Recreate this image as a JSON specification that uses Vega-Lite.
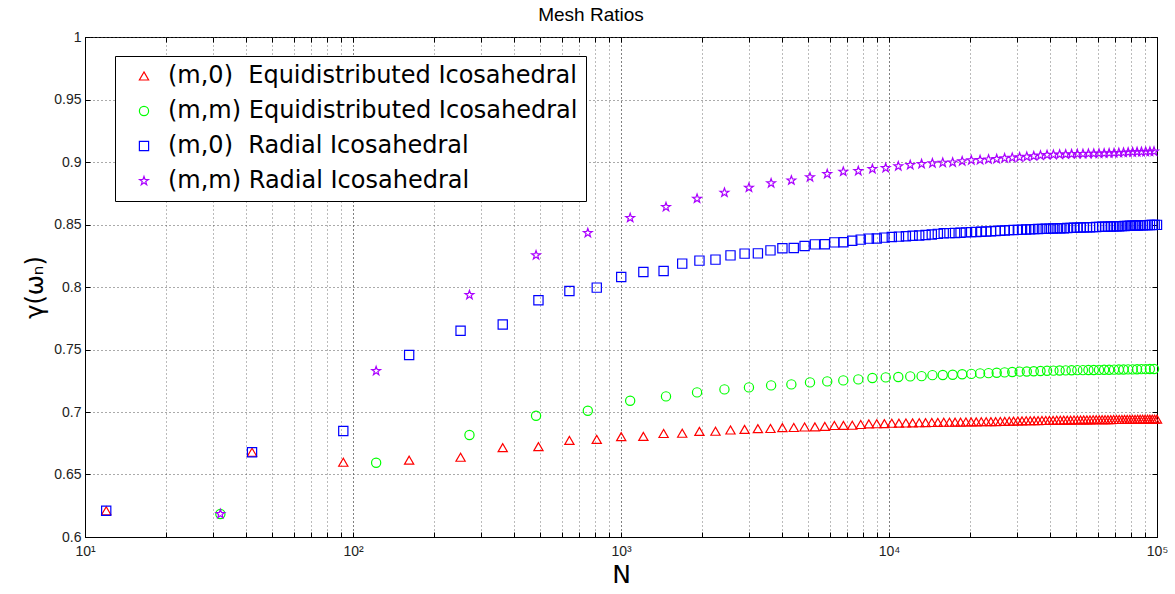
{
  "$schema": "https://vega.github.io/schema/vega-lite/v6.json",
  "width": 1072,
  "height": 500,
  "autosize": {"type": "none"},
  "padding": {"left": 85, "top": 37, "right": 18, "bottom": 57},
  "background": "white",
  "title": {"text": "Mesh Ratios", "font": "Liberation Sans", "fontSize": 19, "fontWeight": "normal", "color": "#000", "offset": 5, "dx": -30},
  "config": {"view": {"stroke": "#000", "strokeWidth": 1}, "axis": {"tickWidth": 1}},
  "data": {"values": [
    {"s":"a","N":12,"g":0.621},{"s":"a","N":42,"g":0.6678},{"s":"a","N":92,"g":0.6598},{"s":"a","N":162,"g":0.6615},{"s":"a","N":252,"g":0.6638},
    {"s":"a","N":362,"g":0.6715},{"s":"a","N":492,"g":0.6723},{"s":"a","N":642,"g":0.6773},{"s":"a","N":812,"g":0.6781},{"s":"a","N":1002,"g":0.6803},
    {"s":"a","N":1212,"g":0.6805},{"s":"a","N":1442,"g":0.6828},{"s":"a","N":1692,"g":0.683},{"s":"a","N":1962,"g":0.6845},{"s":"a","N":2252,"g":0.6846},
    {"s":"a","N":2562,"g":0.6856},{"s":"a","N":2892,"g":0.6861},{"s":"a","N":3242,"g":0.6867},{"s":"a","N":3612,"g":0.6868},{"s":"a","N":4002,"g":0.6875},
    {"s":"a","N":4412,"g":0.6876},{"s":"a","N":4842,"g":0.688},{"s":"a","N":5292,"g":0.6881},{"s":"a","N":5762,"g":0.6885},{"s":"a","N":6252,"g":0.6892},
    {"s":"a","N":6762,"g":0.6893},{"s":"a","N":7292,"g":0.6894},{"s":"a","N":7842,"g":0.69},{"s":"a","N":8412,"g":0.6905},{"s":"a","N":9002,"g":0.6906},
    {"s":"a","N":9612,"g":0.6907},{"s":"a","N":10242,"g":0.691},{"s":"a","N":10892,"g":0.6911},{"s":"a","N":11562,"g":0.6912},{"s":"a","N":12252,"g":0.6913},
    {"s":"a","N":12962,"g":0.6914},{"s":"a","N":13692,"g":0.6915},{"s":"a","N":14442,"g":0.6916},{"s":"a","N":15212,"g":0.6917},{"s":"a","N":16002,"g":0.6918},
    {"s":"a","N":16812,"g":0.6918},{"s":"a","N":17642,"g":0.6919},{"s":"a","N":18492,"g":0.6919},{"s":"a","N":19362,"g":0.692},{"s":"a","N":20252,"g":0.6921},
    {"s":"a","N":21162,"g":0.6921},{"s":"a","N":22092,"g":0.6922},{"s":"a","N":23042,"g":0.6922},{"s":"a","N":24012,"g":0.6923},{"s":"a","N":25002,"g":0.6923},
    {"s":"a","N":26012,"g":0.6924},{"s":"a","N":27042,"g":0.6925},{"s":"a","N":28092,"g":0.6926},{"s":"a","N":29162,"g":0.6927},{"s":"a","N":30252,"g":0.6928},
    {"s":"a","N":31362,"g":0.6929},{"s":"a","N":32492,"g":0.693},{"s":"a","N":33642,"g":0.693},{"s":"a","N":34812,"g":0.6931},{"s":"a","N":36002,"g":0.6931},
    {"s":"a","N":37212,"g":0.6932},{"s":"a","N":38442,"g":0.6932},{"s":"a","N":39692,"g":0.6933},{"s":"a","N":40962,"g":0.6933},{"s":"a","N":42252,"g":0.6934},
    {"s":"a","N":43562,"g":0.6934},{"s":"a","N":44892,"g":0.6935},{"s":"a","N":46242,"g":0.6935},{"s":"a","N":47612,"g":0.6935},{"s":"a","N":49002,"g":0.6936},
    {"s":"a","N":50412,"g":0.6936},{"s":"a","N":51842,"g":0.6936},{"s":"a","N":53292,"g":0.6937},{"s":"a","N":54762,"g":0.6937},{"s":"a","N":56252,"g":0.6937},
    {"s":"a","N":57762,"g":0.6938},{"s":"a","N":59292,"g":0.6938},{"s":"a","N":60842,"g":0.6938},{"s":"a","N":62412,"g":0.6939},{"s":"a","N":64002,"g":0.6939},
    {"s":"a","N":65612,"g":0.6939},{"s":"a","N":67242,"g":0.6939},{"s":"a","N":68892,"g":0.694},{"s":"a","N":70562,"g":0.694},{"s":"a","N":72252,"g":0.694},
    {"s":"a","N":73962,"g":0.694},{"s":"a","N":75692,"g":0.6941},{"s":"a","N":77442,"g":0.6941},{"s":"a","N":79212,"g":0.6941},{"s":"a","N":81002,"g":0.6941},
    {"s":"a","N":82812,"g":0.6941},{"s":"a","N":84642,"g":0.6942},{"s":"a","N":86492,"g":0.6942},{"s":"a","N":88362,"g":0.6942},{"s":"a","N":90252,"g":0.6942},
    {"s":"a","N":92162,"g":0.6942},{"s":"a","N":94092,"g":0.6943},{"s":"a","N":96042,"g":0.6943},{"s":"a","N":98012,"g":0.6943},{"s":"a","N":100002,"g":0.6943},

    {"s":"b","N":32,"g":0.6184},{"s":"b","N":122,"g":0.6594},{"s":"b","N":272,"g":0.6816},{"s":"b","N":482,"g":0.697},{"s":"b","N":752,"g":0.701},
    {"s":"b","N":1082,"g":0.709},{"s":"b","N":1472,"g":0.7125},{"s":"b","N":1922,"g":0.7157},{"s":"b","N":2432,"g":0.7181},{"s":"b","N":3002,"g":0.7197},
    {"s":"b","N":3632,"g":0.7213},{"s":"b","N":4322,"g":0.7221},{"s":"b","N":5072,"g":0.7237},{"s":"b","N":5882,"g":0.7245},{"s":"b","N":6752,"g":0.7253},
    {"s":"b","N":7682,"g":0.7261},{"s":"b","N":8672,"g":0.7272},{"s":"b","N":9722,"g":0.7277},{"s":"b","N":10832,"g":0.728},{"s":"b","N":12002,"g":0.7285},
    {"s":"b","N":13232,"g":0.7287},{"s":"b","N":14522,"g":0.7295},{"s":"b","N":15872,"g":0.7296},{"s":"b","N":17282,"g":0.7298},{"s":"b","N":18752,"g":0.7302},
    {"s":"b","N":20282,"g":0.7305},{"s":"b","N":21872,"g":0.7309},{"s":"b","N":23522,"g":0.7311},{"s":"b","N":25232,"g":0.7314},{"s":"b","N":27002,"g":0.7317},
    {"s":"b","N":28832,"g":0.732},{"s":"b","N":30722,"g":0.7323},{"s":"b","N":32672,"g":0.7324},{"s":"b","N":34682,"g":0.7326},{"s":"b","N":36752,"g":0.7328},
    {"s":"b","N":38882,"g":0.733},{"s":"b","N":41072,"g":0.7331},{"s":"b","N":43322,"g":0.7332},{"s":"b","N":45632,"g":0.7333},{"s":"b","N":48002,"g":0.7334},
    {"s":"b","N":50432,"g":0.7335},{"s":"b","N":52922,"g":0.7335},{"s":"b","N":55472,"g":0.7336},{"s":"b","N":58082,"g":0.7336},{"s":"b","N":60752,"g":0.7337},
    {"s":"b","N":63482,"g":0.7338},{"s":"b","N":66272,"g":0.7338},{"s":"b","N":69122,"g":0.7339},{"s":"b","N":72032,"g":0.734},{"s":"b","N":75002,"g":0.734},
    {"s":"b","N":78032,"g":0.7341},{"s":"b","N":81122,"g":0.7341},{"s":"b","N":84272,"g":0.7342},{"s":"b","N":87482,"g":0.7343},{"s":"b","N":90752,"g":0.7343},
    {"s":"b","N":94082,"g":0.7344},{"s":"b","N":97472,"g":0.7344},

    {"s":"c","N":12,"g":0.621},{"s":"c","N":42,"g":0.6678},{"s":"c","N":92,"g":0.6848},{"s":"c","N":162,"g":0.7456},{"s":"c","N":252,"g":0.765},
    {"s":"c","N":362,"g":0.77},{"s":"c","N":492,"g":0.7894},{"s":"c","N":642,"g":0.7968},{"s":"c","N":812,"g":0.7995},{"s":"c","N":1002,"g":0.808},
    {"s":"c","N":1212,"g":0.812},{"s":"c","N":1442,"g":0.8128},{"s":"c","N":1692,"g":0.8187},{"s":"c","N":1962,"g":0.8211},{"s":"c","N":2252,"g":0.8219},
    {"s":"c","N":2562,"g":0.8253},{"s":"c","N":2892,"g":0.8267},{"s":"c","N":3242,"g":0.8269},{"s":"c","N":3612,"g":0.8293},{"s":"c","N":4002,"g":0.831},
    {"s":"c","N":4412,"g":0.8312},{"s":"c","N":4842,"g":0.8328},{"s":"c","N":5292,"g":0.8341},{"s":"c","N":5762,"g":0.8342},{"s":"c","N":6252,"g":0.8357},
    {"s":"c","N":6762,"g":0.8358},{"s":"c","N":7292,"g":0.837},{"s":"c","N":7842,"g":0.8379},{"s":"c","N":8412,"g":0.8387},{"s":"c","N":9002,"g":0.8388},
    {"s":"c","N":9612,"g":0.8395},{"s":"c","N":10242,"g":0.84},{"s":"c","N":10892,"g":0.8403},{"s":"c","N":11562,"g":0.8406},{"s":"c","N":12252,"g":0.841},
    {"s":"c","N":12962,"g":0.8412},{"s":"c","N":13692,"g":0.8416},{"s":"c","N":14442,"g":0.842},{"s":"c","N":15212,"g":0.8425},{"s":"c","N":16002,"g":0.843},
    {"s":"c","N":16812,"g":0.8431},{"s":"c","N":17642,"g":0.8432},{"s":"c","N":18492,"g":0.8434},{"s":"c","N":19362,"g":0.8437},{"s":"c","N":20252,"g":0.8439},
    {"s":"c","N":21162,"g":0.844},{"s":"c","N":22092,"g":0.8442},{"s":"c","N":23042,"g":0.8444},{"s":"c","N":24012,"g":0.8445},{"s":"c","N":25002,"g":0.8448},
    {"s":"c","N":26012,"g":0.845},{"s":"c","N":27042,"g":0.8452},{"s":"c","N":28092,"g":0.8455},{"s":"c","N":29162,"g":0.8456},{"s":"c","N":30252,"g":0.8457},
    {"s":"c","N":31362,"g":0.8459},{"s":"c","N":32492,"g":0.846},{"s":"c","N":33642,"g":0.8461},{"s":"c","N":34812,"g":0.8463},{"s":"c","N":36002,"g":0.8464},
    {"s":"c","N":37212,"g":0.8465},{"s":"c","N":38442,"g":0.8466},{"s":"c","N":39692,"g":0.8467},{"s":"c","N":40962,"g":0.8468},{"s":"c","N":42252,"g":0.8469},
    {"s":"c","N":43562,"g":0.847},{"s":"c","N":44892,"g":0.847},{"s":"c","N":46242,"g":0.8472},{"s":"c","N":47612,"g":0.8473},{"s":"c","N":49002,"g":0.8474},
    {"s":"c","N":50412,"g":0.8475},{"s":"c","N":51842,"g":0.8476},{"s":"c","N":53292,"g":0.8477},{"s":"c","N":54762,"g":0.8477},{"s":"c","N":56252,"g":0.8478},
    {"s":"c","N":57762,"g":0.8479},{"s":"c","N":59292,"g":0.848},{"s":"c","N":60842,"g":0.8481},{"s":"c","N":62412,"g":0.8482},{"s":"c","N":64002,"g":0.8482},
    {"s":"c","N":65612,"g":0.8483},{"s":"c","N":67242,"g":0.8484},{"s":"c","N":68892,"g":0.8485},{"s":"c","N":70562,"g":0.8485},{"s":"c","N":72252,"g":0.8486},
    {"s":"c","N":73962,"g":0.8487},{"s":"c","N":75692,"g":0.8488},{"s":"c","N":77442,"g":0.8489},{"s":"c","N":79212,"g":0.849},{"s":"c","N":81002,"g":0.8491},
    {"s":"c","N":82812,"g":0.8492},{"s":"c","N":84642,"g":0.8492},{"s":"c","N":86492,"g":0.8493},{"s":"c","N":88362,"g":0.8494},{"s":"c","N":90252,"g":0.8495},
    {"s":"c","N":92162,"g":0.8495},{"s":"c","N":94092,"g":0.8496},{"s":"c","N":96042,"g":0.8496},{"s":"c","N":98012,"g":0.8497},{"s":"c","N":100002,"g":0.8497},

    {"s":"d","N":32,"g":0.6184},{"s":"d","N":122,"g":0.7328},{"s":"d","N":272,"g":0.7936},{"s":"d","N":482,"g":0.8254},{"s":"d","N":752,"g":0.8432},
    {"s":"d","N":1082,"g":0.8553},{"s":"d","N":1472,"g":0.864},{"s":"d","N":1922,"g":0.8707},{"s":"d","N":2432,"g":0.8755},{"s":"d","N":3002,"g":0.8795},
    {"s":"d","N":3632,"g":0.883},{"s":"d","N":4322,"g":0.8853},{"s":"d","N":5072,"g":0.8878},{"s":"d","N":5882,"g":0.8904},{"s":"d","N":6752,"g":0.8923},
    {"s":"d","N":7682,"g":0.8928},{"s":"d","N":8672,"g":0.8944},{"s":"d","N":9722,"g":0.8952},{"s":"d","N":10832,"g":0.8966},{"s":"d","N":12002,"g":0.8976},
    {"s":"d","N":13232,"g":0.8984},{"s":"d","N":14522,"g":0.899},{"s":"d","N":15872,"g":0.8994},{"s":"d","N":17282,"g":0.8996},{"s":"d","N":18752,"g":0.9006},
    {"s":"d","N":20282,"g":0.9014},{"s":"d","N":21872,"g":0.9016},{"s":"d","N":23522,"g":0.9021},{"s":"d","N":25232,"g":0.9024},{"s":"d","N":27002,"g":0.903},
    {"s":"d","N":28832,"g":0.9034},{"s":"d","N":30722,"g":0.9038},{"s":"d","N":32672,"g":0.9042},{"s":"d","N":34682,"g":0.9047},{"s":"d","N":36752,"g":0.9052},
    {"s":"d","N":38882,"g":0.9056},{"s":"d","N":41072,"g":0.9058},{"s":"d","N":43322,"g":0.906},{"s":"d","N":45632,"g":0.9061},{"s":"d","N":48002,"g":0.9063},
    {"s":"d","N":50432,"g":0.9064},{"s":"d","N":52922,"g":0.9065},{"s":"d","N":55472,"g":0.9066},{"s":"d","N":58082,"g":0.9067},{"s":"d","N":60752,"g":0.9068},
    {"s":"d","N":63482,"g":0.9069},{"s":"d","N":66272,"g":0.907},{"s":"d","N":69122,"g":0.9071},{"s":"d","N":72032,"g":0.9073},{"s":"d","N":75002,"g":0.9075},
    {"s":"d","N":78032,"g":0.9077},{"s":"d","N":81122,"g":0.9078},{"s":"d","N":84272,"g":0.908},{"s":"d","N":87482,"g":0.9081},{"s":"d","N":90752,"g":0.9082},
    {"s":"d","N":94082,"g":0.9083},{"s":"d","N":97472,"g":0.9084}
  ]},
  "layer": [
    {
      "mark": {"type": "point", "filled": false, "size": 85, "strokeWidth": 1.2, "opacity": 1},
      "encoding": {
        "x": {
          "field": "N", "type": "quantitative",
          "scale": {"type": "log", "domain": [10, 100000], "nice": false},
          "axis": {
            "orient": "bottom",
            "values": [10,20,30,40,50,60,70,80,90,100,200,300,400,500,600,700,800,900,1000,2000,3000,4000,5000,6000,7000,8000,9000,10000,20000,30000,40000,50000,60000,70000,80000,90000,100000],
            "labelExpr": "datum.value == 10 ? '10¹' : datum.value == 100 ? '10²' : datum.value == 1000 ? '10³' : datum.value == 10000 ? '10⁴' : datum.value == 100000 ? '10⁵' : ''",
            "labelFont": "Liberation Sans", "labelFontSize": 14, "labelColor": "#222",
            "labelOverlap": false, "labelFlush": false, "labelPadding": 12,
            "tickSize": -5, "tickColor": "#000", "domainColor": "#000",
            "gridColor": {"condition": {"test": "datum.value == 10 || datum.value == 100 || datum.value == 1000 || datum.value == 10000 || datum.value == 100000", "value": "#000"}, "value": "#777"},
            "gridDash": [1, 3],
            "title": "N", "titleFont": "DejaVu Sans", "titleFontSize": 25, "titleFontWeight": "normal", "titleColor": "#000", "titlePadding": 4
          }
        },
        "y": {
          "field": "g", "type": "quantitative",
          "scale": {"domain": [0.6, 1], "nice": false, "zero": false},
          "axis": {
            "orient": "left",
            "values": [0.6,0.65,0.7,0.75,0.8,0.85,0.9,0.95,1],
            "format": "~g",
            "labelFont": "Liberation Sans", "labelFontSize": 14, "labelColor": "#222", "labelPadding": 9,
            "tickSize": -5, "tickColor": "#000", "domainColor": "#000",
            "gridColor": "#555", "gridDash": [1, 3],
            "title": "γ(ωₙ)", "titleFont": "DejaVu Sans", "titleFontSize": 24, "titleFontWeight": "normal", "titleColor": "#000", "titlePadding": 6
          }
        },
        "color": {
          "field": "s", "type": "nominal",
          "scale": {"domain": ["a","b","c","d"], "range": ["#ff0000","#00ff00","#0000ff","#aa00ff"]},
          "legend": {
            "title": null, "orient": "none", "legendX": 30, "legendY": 19,
            "labelExpr": "datum.label == 'a' ? '(m,0)\u00a0\u00a0Equidistributed Icosahedral' : datum.label == 'b' ? '(m,m) Equidistributed Icosahedral' : datum.label == 'c' ? '(m,0)\u00a0\u00a0Radial Icosahedral' : '(m,m) Radial Icosahedral'",
            "labelFont": "DejaVu Sans", "labelFontSize": 24, "labelColor": "#000", "labelLimit": 0,
            "padding": 8, "rowPadding": 11, "symbolOffset": 9, "symbolSize": 85, "symbolStrokeWidth": 1.2, "labelOffset": 12,
            "strokeColor": "#000", "fillColor": "#fff"
          }
        },
        "shape": {
          "field": "s", "type": "nominal",
          "scale": {"domain": ["a","b","c","d"], "range": ["triangle-up","circle","square","M0,-1L0.235,-0.324L0.951,-0.309L0.38,0.124L0.588,0.809L0,0.4L-0.588,0.809L-0.38,0.124L-0.951,-0.309L-0.235,-0.324Z"]},
          "legend": {
            "title": null, "orient": "none", "legendX": 30, "legendY": 19,
            "labelExpr": "datum.label == 'a' ? '(m,0)\u00a0\u00a0Equidistributed Icosahedral' : datum.label == 'b' ? '(m,m) Equidistributed Icosahedral' : datum.label == 'c' ? '(m,0)\u00a0\u00a0Radial Icosahedral' : '(m,m) Radial Icosahedral'",
            "labelFont": "DejaVu Sans", "labelFontSize": 24, "labelColor": "#000", "labelLimit": 0,
            "padding": 8, "rowPadding": 11, "symbolOffset": 9, "symbolSize": 85, "symbolStrokeWidth": 1.2, "labelOffset": 12,
            "strokeColor": "#000", "fillColor": "#fff"
          }
        }
      }
    },
    {
      "mark": {"type": "point", "opacity": 0},
      "encoding": {
        "x": {
          "field": "N", "type": "quantitative",
          "axis": {"orient": "top", "values": [10,20,30,40,50,60,70,80,90,100,200,300,400,500,600,700,800,900,1000,2000,3000,4000,5000,6000,7000,8000,9000,10000,20000,30000,40000,50000,60000,70000,80000,90000,100000], "labels": false, "grid": false, "domain": false, "tickSize": -5, "tickColor": "#000", "title": null}
        },
        "y": {
          "field": "g", "type": "quantitative",
          "axis": {"orient": "right", "values": [0.6,0.65,0.7,0.75,0.8,0.85,0.9,0.95,1], "labels": false, "grid": false, "domain": false, "tickSize": -5, "tickColor": "#000", "title": null}
        }
      }
    }
  ],
  "resolve": {"axis": {"x": "independent", "y": "independent"}}
}
